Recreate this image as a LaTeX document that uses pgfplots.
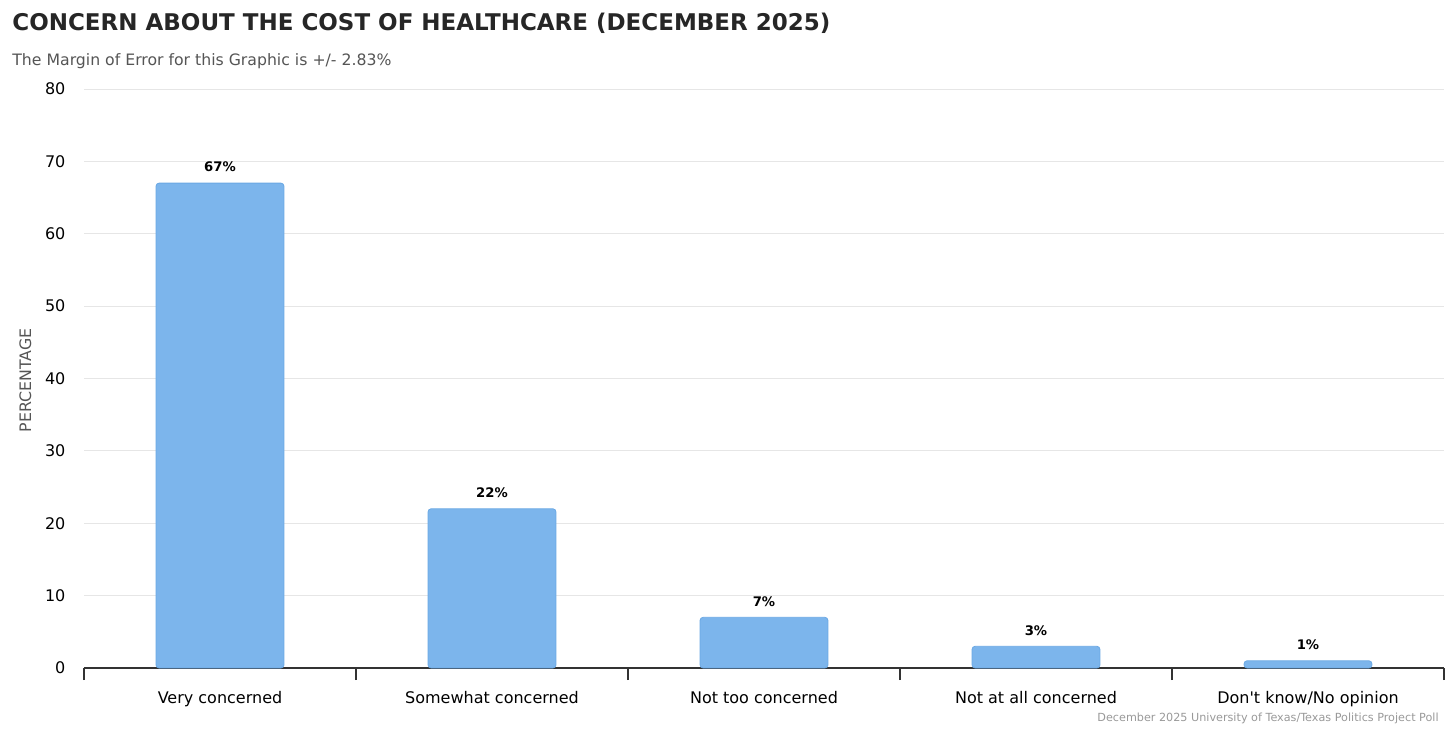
\documentclass[border=0pt]{standalone}
\usepackage{fontspec}
\setmainfont{DejaVu Sans}
\usepackage{pgfplots}
\pgfplotsset{compat=1.18}

\definecolor{barblue}{HTML}{7CB5EC}
\definecolor{baredge}{HTML}{6AA8E4}
\definecolor{gridgray}{HTML}{E6E6E6}
\definecolor{axisgray}{HTML}{333333}
\definecolor{titlegray}{HTML}{262626}
\definecolor{subgray}{HTML}{555555}
\definecolor{footgray}{HTML}{999999}

\begin{document}
\begin{tikzpicture}[x=1pt,y=1pt]
  \useasboundingbox (0,0) rectangle (728,364);

  \node[anchor=west, text=titlegray, font=\fontsize{11.5}{13}\selectfont\bfseries, inner sep=0pt]
    at (6,352.5) {CONCERN ABOUT THE COST OF HEALTHCARE (DECEMBER 2025)};
  \node[anchor=west, text=subgray, font=\fontsize{7.85}{9}\selectfont, inner sep=0pt]
    at (6,333.3) {The Margin of Error for this Graphic is +/- 2.83\%};

  \begin{axis}[
      at={(42pt,30pt)}, anchor=south west,
      scale only axis,
      width=680pt, height=289.5pt,
      xmin=-0.5, xmax=4.5,
      ymin=0, ymax=80,
      ytick={0,10,...,80},
      xtick={0,1,2,3,4},
      xticklabels={Very concerned, Somewhat concerned, Not too concerned, Not at all concerned, Don\textquotesingle t know/No opinion},
      minor xtick={-0.5,0.5,1.5,2.5,3.5,4.5},
      major x tick style={draw=none},
      minor x tick style={axisgray, line width=0.6pt},
      minor tick length=6pt,
      tick align=outside,
      ytick style={draw=none},
      axis lines*=left,
      x axis line style={axisgray, line width=0.6pt},
      y axis line style={draw=none},
      ymajorgrids=true,
      grid style={gridgray, line width=0.5pt},
      /pgf/number format/assume math mode=true,
      yticklabel style={font=\fontsize{8}{9}\selectfont, text=black, xshift=-1.5pt},
      xticklabel style={font=\fontsize{8}{9}\selectfont, text=black, yshift=-4pt},
      ylabel={PERCENTAGE},
      ylabel style={font=\fontsize{7.9}{9}\selectfont, text=subgray},
      every axis y label/.append style={at={(ticklabel cs:0.488)}, xshift=2.5pt},
      ybar, bar width=0.47,
      nodes near coords={\pgfmathprintnumber{\pgfplotspointmeta}\%},
      every node near coord/.append style={font=\fontsize{6.6}{7}\selectfont\bfseries, text=black, yshift=2pt},
      clip=false,
    ]
    \addplot[fill=barblue, draw=baredge, line width=0.4pt, rounded corners=1.5pt]
      coordinates {(0,67) (1,22) (2,7) (3,3) (4,1)};
  \end{axis}

  \node[anchor=east, text=footgray, font=\fontsize{5.6}{6}\selectfont, inner sep=0pt]
    at (719.5,5) {December 2025 University of Texas/Texas Politics Project Poll};
\end{tikzpicture}
\end{document}
